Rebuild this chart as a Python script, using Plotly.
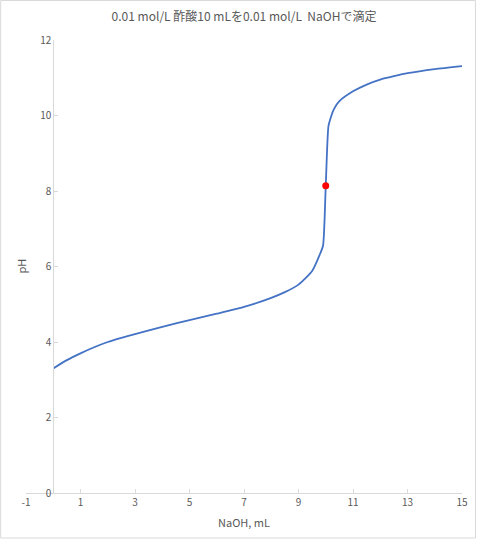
import plotly.graph_objects as go

naoh_ml = [0, 0.5, 1, 1.5, 2, 2.5, 3, 4, 5, 6, 7, 8, 8.5, 9, 9.5, 9.8, 9.9, 10, 10.1, 10.2, 10.3, 10.5,
           11, 11.5, 12, 12.5, 13, 14, 15]
ph = [3.30, 3.52, 3.70, 3.86, 4.00, 4.11, 4.21, 4.40, 4.58, 4.75, 4.93, 5.17, 5.32, 5.52, 5.88, 6.35, 6.55, 8.14,
      9.72, 9.98, 10.17, 10.38, 10.64, 10.82, 10.95, 11.04, 11.12, 11.23, 11.31]
eq_x = [10]
eq_y = [8.14]
x_ticks = [-1, 1, 3, 5, 7, 9, 11, 13, 15]
x_tick_text = ["-1", "1", "3", "5", "7", "9", "11", "13", "15"]
y_ticks = [0, 2, 4, 6, 8, 10, 12]

title_text = "0.01 mol/L 酢酸10 mLを0.01 mol/L  NaOHで滴定"
FONT = "Noto Sans CJK JP"
GRAY = "#595959"
AXIS = "#d9d9d9"

fig = go.Figure()
fig.add_trace(go.Scatter(x=naoh_ml, y=ph, mode="lines",
                         line=dict(color="#4472C4", width=1.8, shape="spline", smoothing=0.6),
                         showlegend=False, hoverinfo="skip"))
fig.add_trace(go.Scatter(x=eq_x, y=eq_y, mode="markers", marker=dict(color="#FF0000", size=7),
                         showlegend=False))

W, H = 480, 539
L, R, T, B = 26, 15, 40, 46
pw, ph_ = W - L - R, H - T - B

def px_to_paper_x(px):
    return (px - L) / pw

def py_to_paper_y(py):
    return (H - B - py) / ph_

fig.update_layout(
    width=W, height=H,
    margin=dict(l=L, r=R, t=T, b=B),
    paper_bgcolor="white", plot_bgcolor="white",
    font=dict(family=FONT, color=GRAY, size=11),
    title=dict(text=title_text, x=0.5, xref="paper", y=1 - 17 / H, yanchor="middle",
               font=dict(family=FONT, size=12, color=GRAY)),
    xaxis=dict(range=[-1, 15], tickvals=x_ticks, ticktext=x_tick_text, showgrid=False, zeroline=False,
               showline=True, linecolor=AXIS, linewidth=1, ticks="inside", ticklen=4,
               tickcolor=AXIS, tickfont=dict(size=10, color=GRAY), fixedrange=True),
    yaxis=dict(range=[0, 12], tickvals=y_ticks, showgrid=False, zeroline=False,
               showline=True, linecolor=AXIS, linewidth=1, ticks="inside", ticklen=4,
               tickcolor=AXIS, tickfont=dict(size=10, color=GRAY),
               anchor="free", position=1 / 16, fixedrange=True),
    annotations=[
        dict(text="NaOH, mL", x=px_to_paper_x(245), y=py_to_paper_y(522), xref="paper", yref="paper",
             showarrow=False, font=dict(size=11, color=GRAY), xanchor="center", yanchor="middle"),
        dict(text="pH", x=px_to_paper_x(20), y=py_to_paper_y(266.5), xref="paper", yref="paper",
             showarrow=False, textangle=-90, font=dict(size=11, color=GRAY), xanchor="center", yanchor="middle"),
    ],
    shapes=[
        dict(type="rect", xref="paper", yref="paper",
             x0=px_to_paper_x(0.5), x1=px_to_paper_x(478.5), y0=py_to_paper_y(538), y1=py_to_paper_y(0.5),
             line=dict(color=AXIS, width=1), fillcolor="rgba(0,0,0,0)", layer="below"),
    ],
)

fig.write_html("out.html", config={"displayModeBar": False},
               post_script="document.body.style.margin='0';document.body.style.padding='0';")
